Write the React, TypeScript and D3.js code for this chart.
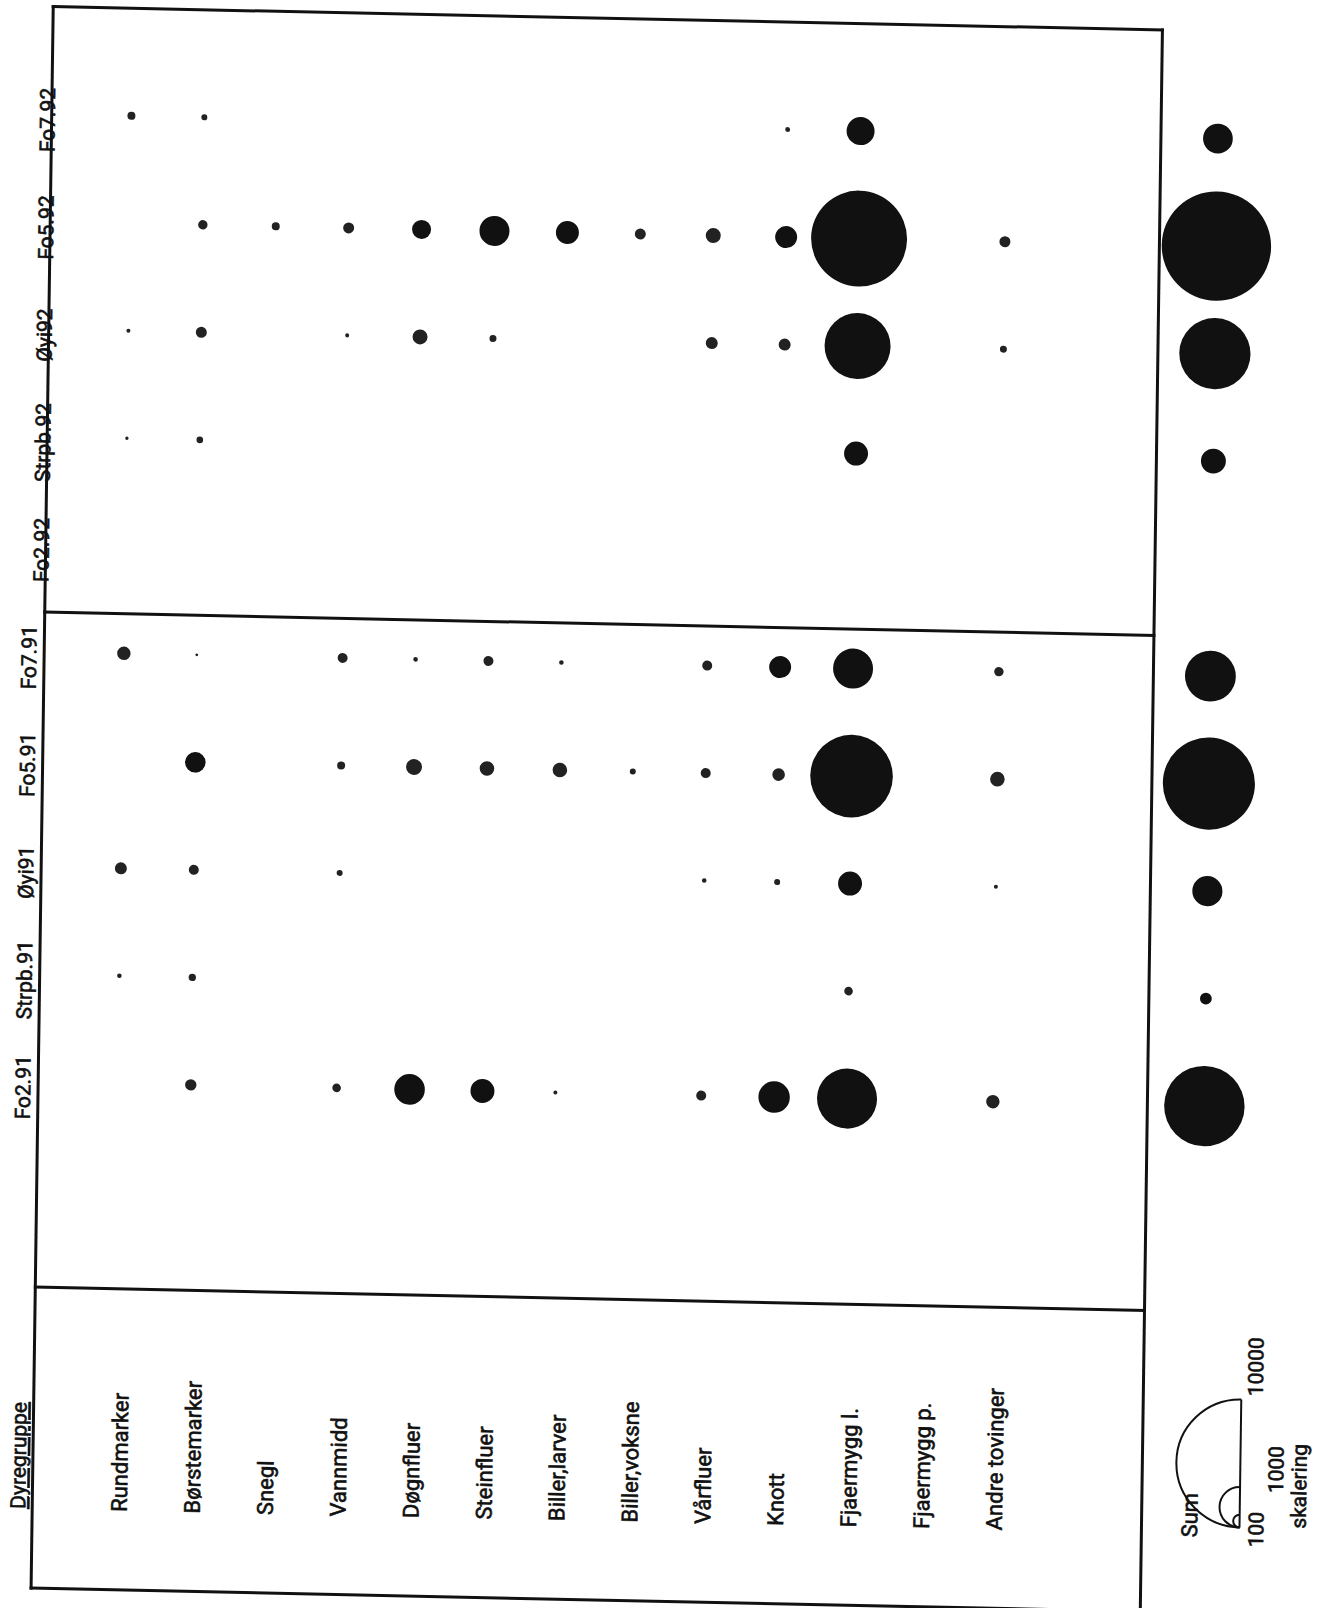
import React from 'react';
import * as d3 from 'd3';

// Animal groups (columns) and samples (rows)
const categories = [
  'Rundmarker', 'Børstemarker', 'Snegl', 'Vannmidd', 'Døgnfluer', 'Steinfluer',
  'Biller,larver', 'Biller,voksne', 'Vårfluer', 'Knott', 'Fjaermygg l.', 'Fjaermygg p.', 'Andre tovinger',
];
const samples92 = ['Fo7.92', 'Fo5.92', 'Øyi92', 'Strpb.92', 'Fo2.92'];
const samples91 = ['Fo7.91', 'Fo5.91', 'Øyi91', 'Strpb.91', 'Fo2.91'];

// Counts per sample, in category order (read from circle areas)
const fo7_92 = [39, 22, 0, 0, 0, 0, 0, 0, 0, 15, 478, 0, 0];
const fo5_92 = [0, 54, 39, 74, 220, 549, 323, 74, 137, 295, 5620, 0, 74];
const oyi92 = [10, 74, 0, 10, 137, 30, 0, 0, 88, 88, 2660, 0, 30];
const strpb92 = [7, 27, 0, 0, 0, 0, 0, 0, 0, 0, 351, 0, 0];
const fo2_92 = [0, 0, 0, 0, 0, 0, 0, 0, 0, 0, 0, 0, 0];
const fo7_91 = [110, 5, 0, 61, 13, 61, 13, 0, 61, 295, 976, 0, 54];
const fo5_91 = [0, 259, 0, 39, 156, 130, 130, 22, 61, 97, 4160, 0, 130];
const oyi91 = [88, 61, 0, 22, 0, 0, 0, 0, 13, 22, 351, 0, 10];
const strpb91 = [13, 33, 0, 0, 0, 0, 0, 0, 0, 0, 45, 0, 0];
const fo2_91 = [0, 79, 0, 45, 571, 351, 10, 0, 61, 602, 2200, 0, 110];

const sums92 = [540, 7300, 3100, 380, 0];
const sums91 = [1580, 5180, 555, 85, 3950];

const legendValues = [100, 1000, 10000];

const rows92 = [fo7_92, fo5_92, oyi92, strpb92, fo2_92];
const rows91 = [fo7_91, fo5_91, oyi91, strpb91, fo2_91];

export default function App() {
  const W = 1329;
  const H = 1608;
  const font = "Roboto, 'DejaVu Sans', sans-serif";
  const ink = '#111';

  const allSamples = [...samples92, ...samples91];
  const allRows = [...rows92, ...rows91];
  const allSums = [...sums92, ...sums91];

  const x = d3.scalePoint<string>().domain(categories).range([133, 1008]);
  const y = d3.scalePoint<string>().domain(allSamples).range([113, 1080.5]);
  const r = d3.scaleSqrt().domain([0, 10000]).range([0, 64]);
  const sumX = 1219.5;

  const left = 53.3;
  const right = 1162.5;
  const top = 5.5;
  const bottom = 1587;
  const divider = 611;
  const labelSep = 1286;
  const labelBase = 1509;

  const legX = 1260.5;
  const legB = 1501;
  const rMax = r(10000);

  const semi = (rad: number) =>
    `M${legX},${legB} A${rad},${rad} 0 0 1 ${legX},${legB - 2 * rad}`;

  const textStyle = { stroke: ink, strokeWidth: 0.6 };

  return (
    <div style={{ position: 'absolute', left: 0, top: 0, background: '#fff' }}>
      <svg width={W} height={H} viewBox={`0 0 ${W} ${H}`} style={{ display: 'block', background: '#fff' }}>
        <g transform="matrix(1,0.021,-0.014,1,0,0)" fontFamily={font} fill={ink}>
          {/* frame */}
          <g stroke={ink} strokeWidth={3} fill="none" strokeLinecap="square">
            <line x1={left} y1={top} x2={right} y2={top} />
            <line x1={left} y1={top} x2={left} y2={bottom} />
            <line x1={right} y1={top} x2={right} y2={bottom + 30} />
            <line x1={left} y1={bottom} x2={right} y2={bottom} />
            <line x1={left} y1={divider} x2={right} y2={divider} />
            <line x1={left} y1={labelSep} x2={right} y2={labelSep} />
          </g>

          {/* sample labels */}
          {allSamples.map((s, i) => (
            <text
              key={s}
              transform={`translate(${i < 5 ? 56.5 : 45.5},${(y(s) as number) + 6}) rotate(-90)`}
              textAnchor="middle"
              fontSize={21}
              style={textStyle}
            >
              {s}
            </text>
          ))}

          {/* bubbles */}
          {allRows.map((vals, i) =>
            vals.map((v, j) =>
              v > 0 ? (
                <circle
                  key={`${i}-${j}`}
                  cx={x(categories[j]) as number}
                  cy={y(allSamples[i]) as number}
                  r={r(v)}
                  fill={r(v) < 8 ? '#222' : ink}
                />
              ) : null
            )
          )}

          {/* sum column */}
          {allSums.map((v, i) =>
            v > 0 ? (
              <circle key={`sum-${i}`} cx={sumX} cy={y(allSamples[i]) as number} r={r(v)} fill={ink} />
            ) : null
          )}

          {/* group labels */}
          <text
            transform={`translate(46.3,${labelBase - 1}) rotate(-90)`}
            fontSize={21}
            style={{ ...textStyle, textDecoration: 'underline' }}
          >
            Dyregruppe
          </text>
          {categories.map((c) => (
            <text
              key={c}
              transform={`translate(${(x(c) as number) + 15},${labelBase}) rotate(-90)`}
              fontSize={22}
              style={textStyle}
            >
              {c}
            </text>
          ))}
          <text transform={`translate(${sumX - 1.3},${labelBase + 3}) rotate(-90)`} fontSize={22} style={textStyle}>
            Sum
          </text>

          {/* size legend */}
          <g stroke={ink} strokeWidth={2} fill="none">
            {legendValues.map((v) => (
              <path key={v} d={semi(r(v))} />
            ))}
            <line x1={legX} y1={legB} x2={legX} y2={legB - 2 * rMax} />
          </g>
          <text transform={`translate(1282,${legB - 2 * rMax - 3.5}) rotate(-90)`} fontSize={21} style={textStyle}>
            {legendValues[2]}
          </text>
          <text transform={`translate(1303.6,${legB - 2 * r(1000) + 5.4}) rotate(-90)`} fontSize={21} style={textStyle}>
            {legendValues[1]}
          </text>
          <text transform={`translate(1284.4,${legB + 19.5}) rotate(-90)`} fontSize={21} style={textStyle}>
            {legendValues[0]}
          </text>
          <text transform={`translate(1326.7,${legB}) rotate(-90)`} fontSize={21} style={textStyle}>
            skalering
          </text>
        </g>
      </svg>
    </div>
  );
}
